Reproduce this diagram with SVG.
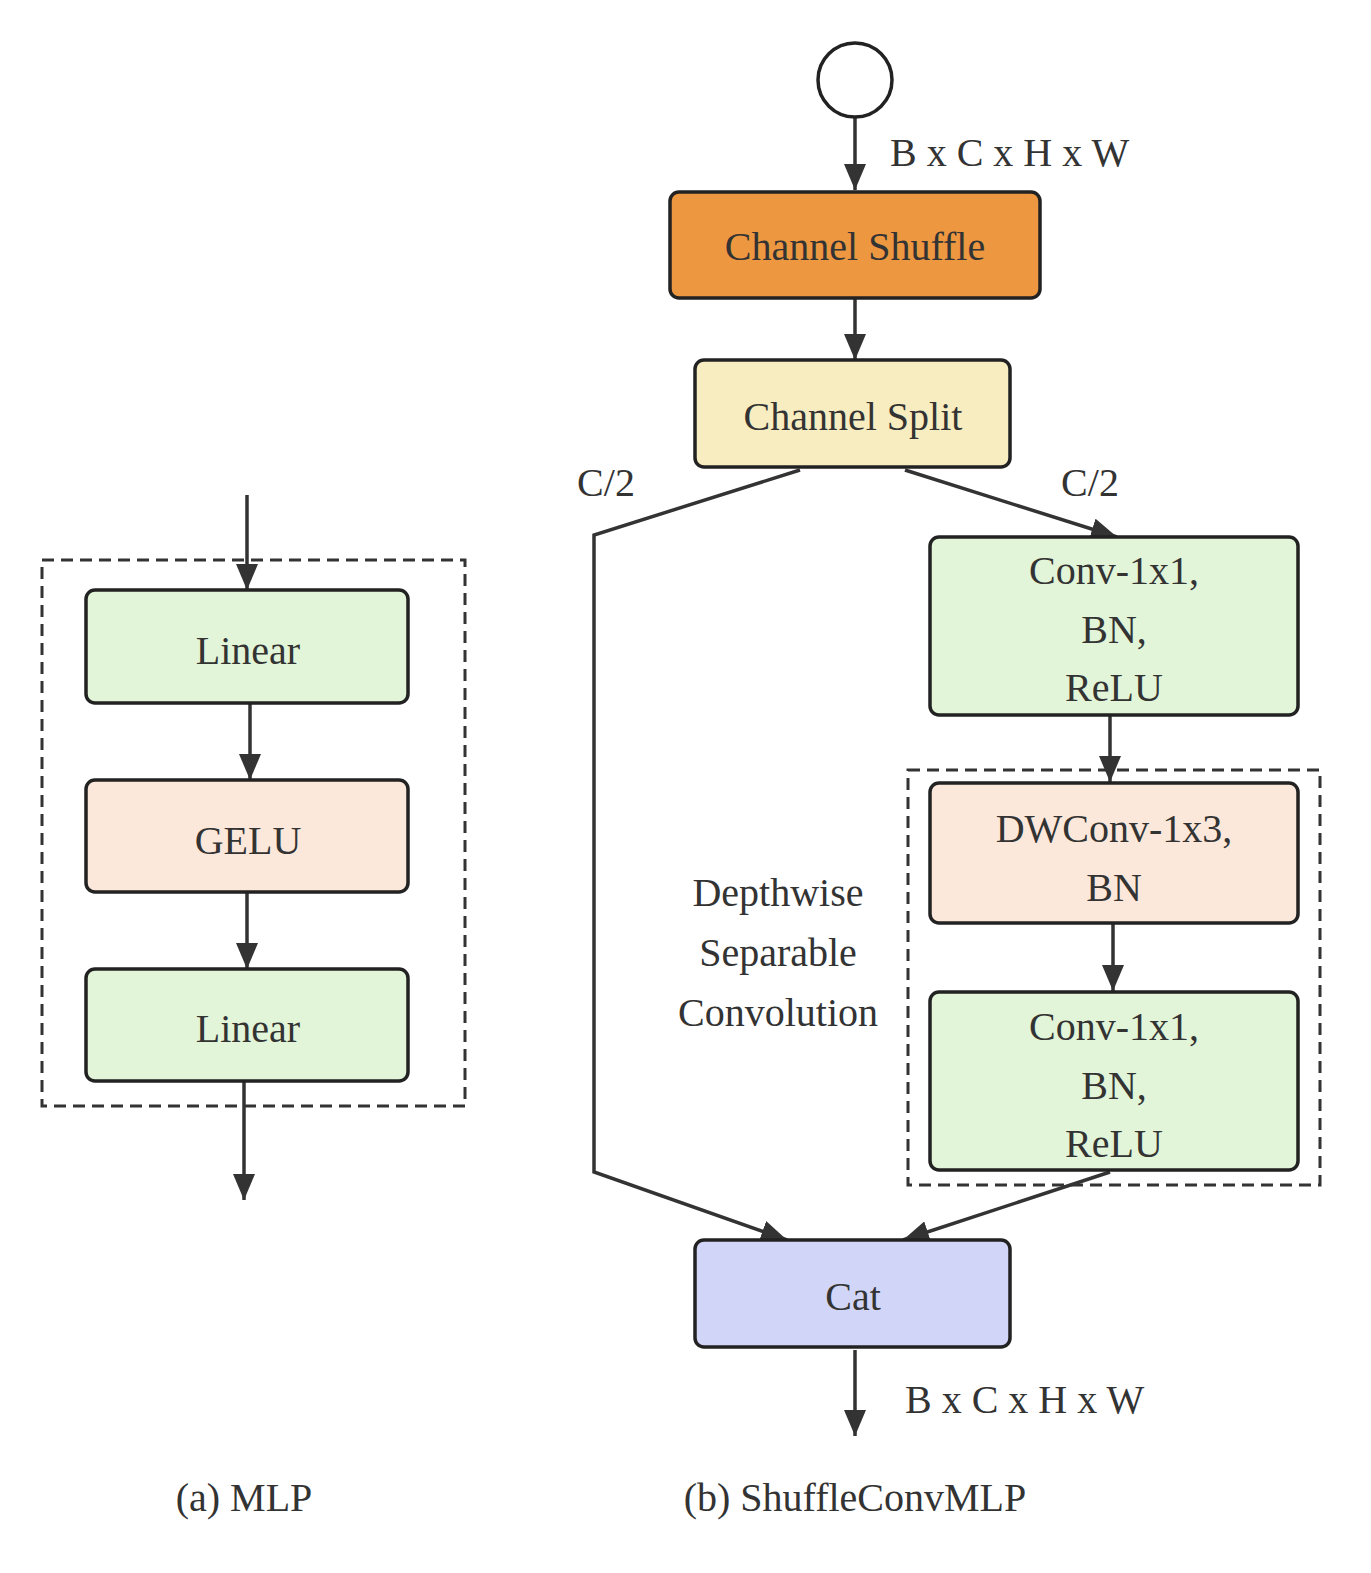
<svg xmlns="http://www.w3.org/2000/svg" width="1371" height="1573" viewBox="0 0 1371 1573">
<style>
text{font-family:"Liberation Serif",serif;font-size:40px;fill:#333;text-anchor:middle}
.n{stroke:#222;stroke-width:3.5}
.c{fill:none;stroke:#333;stroke-width:3.5}
.d{fill:none;stroke:#333;stroke-width:3;stroke-dasharray:12 7}
.l{text-anchor:start}
</style>
<defs><marker id="a" viewBox="0 0 10 10" refX="10" refY="5" markerWidth="7" markerHeight="9" markerUnits="userSpaceOnUse" orient="auto" style="overflow:visible"><path d="M0,0L10,5L0,10z" fill="#333" transform="scale(2.6)translate(-6.2,-3.1)"/></marker>
<marker id="m" viewBox="0 0 26 22" refX="26" refY="11" markerWidth="26" markerHeight="22" markerUnits="userSpaceOnUse" orient="auto"><path d="M0,0L26,11L0,22z" fill="#333"/></marker></defs>
<rect class="d" x="42" y="560" width="423" height="546"/>
<rect class="d" x="908" y="770" width="412" height="415"/>
<g id="connectors">
<path class="c" d="M855,117V190" marker-end="url(#m)"/>
<path class="c" d="M855,298V360" marker-end="url(#m)"/>
<path class="c" d="M800,470L594,535V1172L787,1240" marker-end="url(#m)"/>
<path class="c" d="M905,470L1117,537" marker-end="url(#m)"/>
<path class="c" d="M1110,715V782" marker-end="url(#m)"/>
<path class="c" d="M1113,923V991" marker-end="url(#m)"/>
<path class="c" d="M1110,1172L903,1240" marker-end="url(#m)"/>
<path class="c" d="M855,1350V1436" marker-end="url(#m)"/>
<path class="c" d="M247,495V590" marker-end="url(#m)"/>
<path class="c" d="M250,703V780" marker-end="url(#m)"/>
<path class="c" d="M247,892V969" marker-end="url(#m)"/>
<path class="c" d="M244,1081V1200" marker-end="url(#m)"/>
</g>
<g id="input"><circle class="n" cx="855" cy="80" r="37" fill="#fff"/></g>
<text class="l" x="890" y="166">B x C x H x W</text>
<g id="shuffle"><rect class="n" x="670" y="192" width="370" height="106" rx="9" fill="#ED9741"/><text x="855" y="260">Channel Shuffle</text></g>
<g id="split"><rect class="n" x="695" y="360" width="315" height="107" rx="9" fill="#F8EDC0"/><text x="853" y="430">Channel Split</text></g>
<text x="606" y="496">C/2</text><text x="1090" y="496">C/2</text>
<g id="conv1"><rect class="n" x="930" y="537" width="368" height="178" rx="9" fill="#E2F5D8"/><text x="1114" y="584">Conv-1x1,</text><text x="1114" y="643">BN,</text><text x="1114" y="701">ReLU</text></g>
<g id="dwconv"><rect class="n" x="930" y="783" width="368" height="140" rx="9" fill="#FCE8DA"/><text x="1114" y="842">DWConv-1x3,</text><text x="1114" y="901">BN</text></g>
<g id="conv2"><rect class="n" x="930" y="992" width="368" height="178" rx="9" fill="#E2F5D8"/><text x="1114" y="1040">Conv-1x1,</text><text x="1114" y="1099">BN,</text><text x="1114" y="1157">ReLU</text></g>
<text x="778" y="906">Depthwise</text><text x="778" y="966">Separable</text><text x="778" y="1026">Convolution</text>
<g id="cat"><rect class="n" x="695" y="1240" width="315" height="107" rx="9" fill="#D1D5F7"/><text x="853" y="1310">Cat</text></g>
<text class="l" x="905" y="1413">B x C x H x W</text>
<g id="linear1"><rect class="n" x="86" y="590" width="322" height="113" rx="9" fill="#E2F5D8"/><text x="248" y="664">Linear</text></g>
<g id="gelu"><rect class="n" x="86" y="780" width="322" height="112" rx="9" fill="#FCE8DA"/><text x="248" y="854">GELU</text></g>
<g id="linear2"><rect class="n" x="86" y="969" width="322" height="112" rx="9" fill="#E2F5D8"/><text x="248" y="1042">Linear</text></g>
<text x="244" y="1511">(a) MLP</text>
<text x="855" y="1511">(b) ShuffleConvMLP</text>
</svg>
